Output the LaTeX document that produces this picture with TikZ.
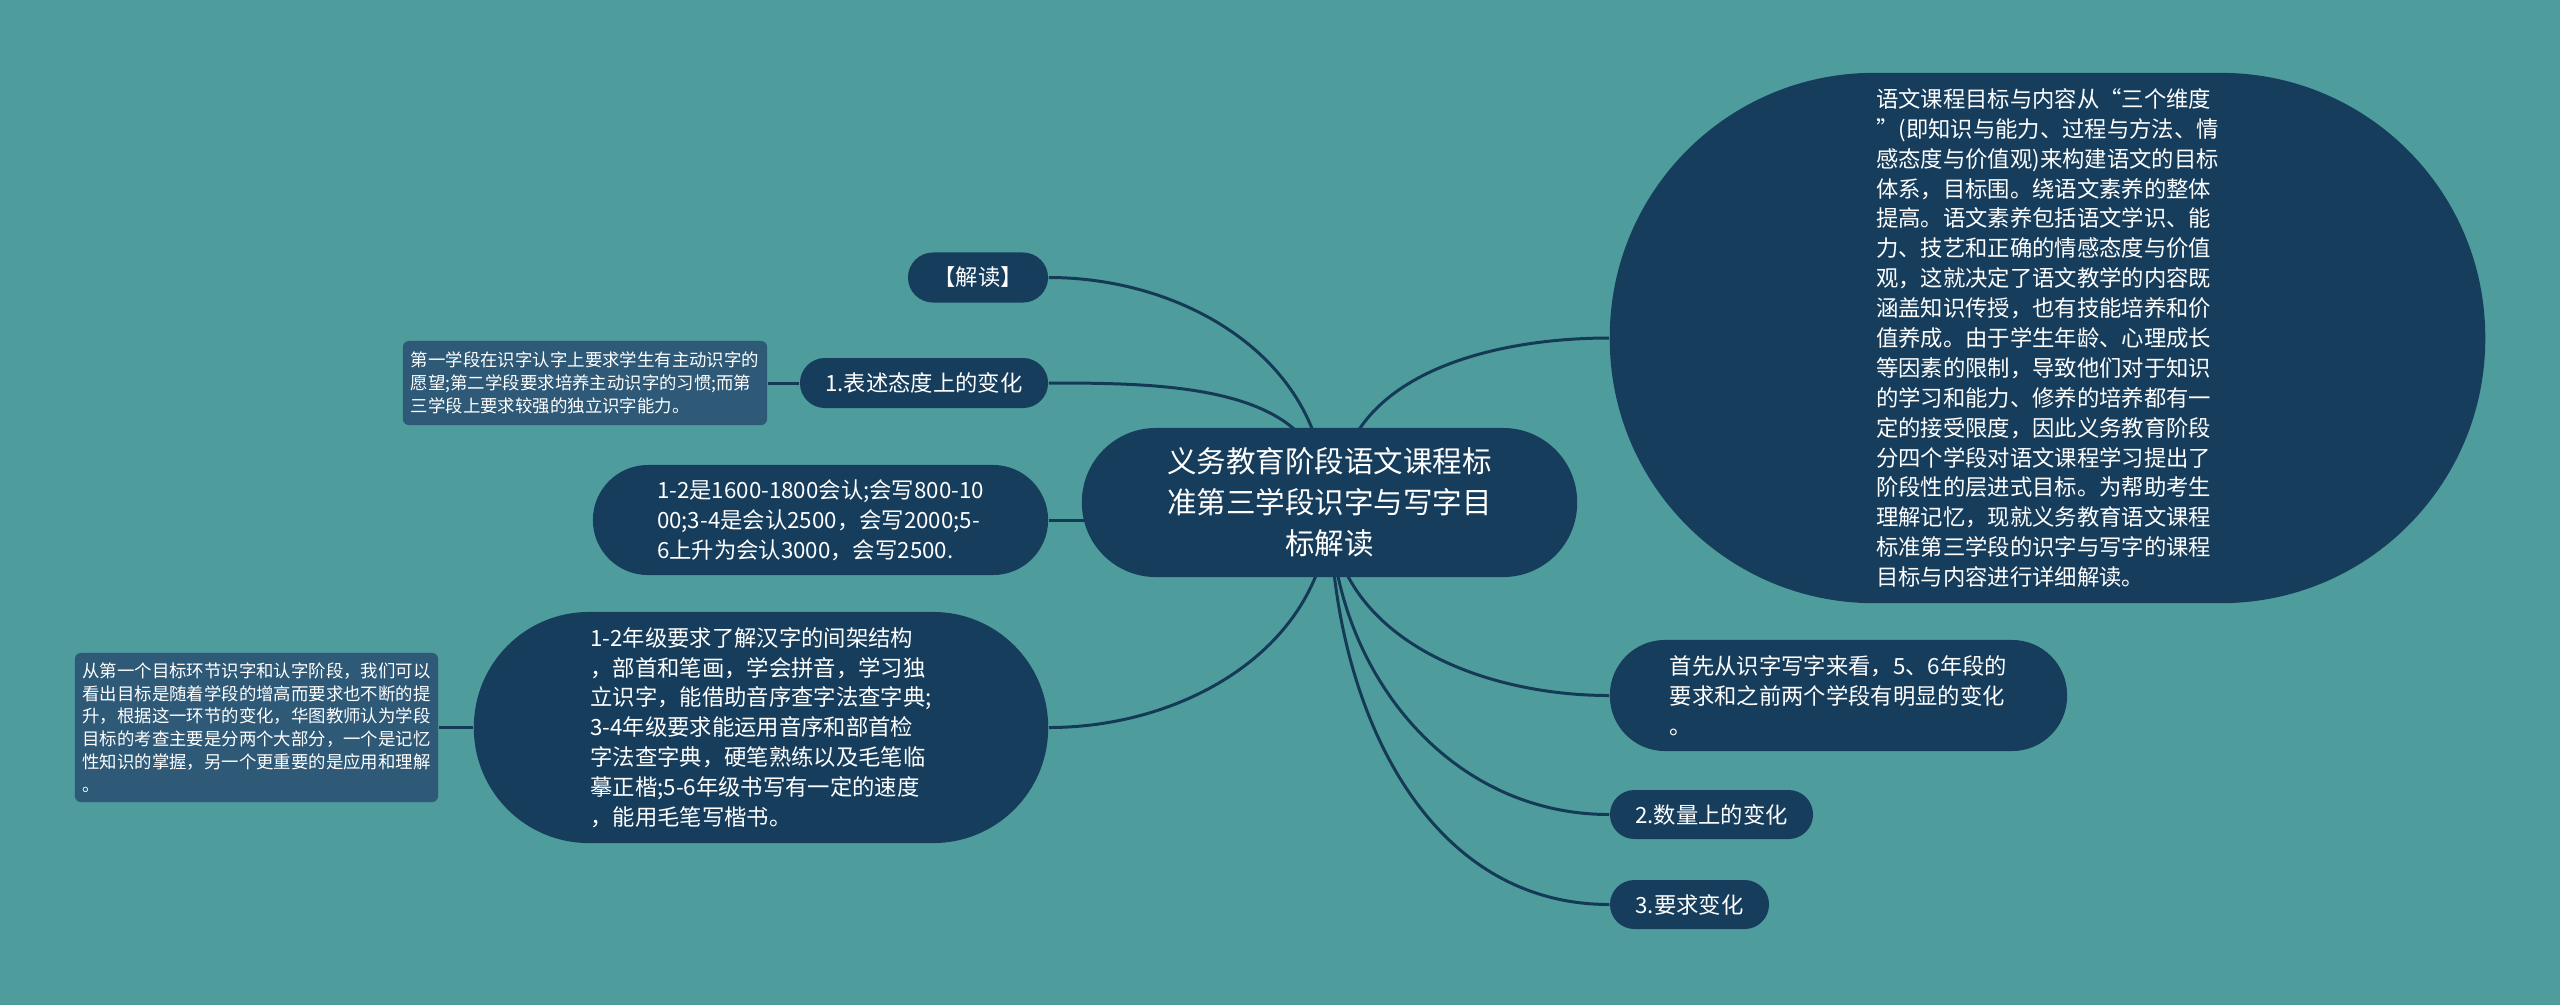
\documentclass[tikz,border=0pt]{standalone}
\usepackage{fontspec}
\setmainfont{Noto Sans CJK SC}
\usetikzlibrary{backgrounds}

\definecolor{bgteal}{HTML}{4E9C9C}
\definecolor{nodeblue}{HTML}{173D5C}
\definecolor{noteblue}{HTML}{2E5977}
\definecolor{linkblue}{HTML}{143A56}

\tikzset{
  topic/.style={fill=nodeblue, text=white, align=left, inner sep=0pt,
    font=\fontsize{6.35pt}{8.5pt}\selectfont},
  note/.style={fill=noteblue, text=white, align=left, inner sep=0pt,
    rounded corners=0.06cm, font=\fontsize{4.95pt}{6.5pt}\selectfont},
  link/.style={draw=linkblue, line width=0.85pt},
}

\begin{document}
\begin{tikzpicture}[x=0.01cm, y=-0.01cm]
   		\useasboundingbox (0,0) rectangle (2560,1005);

   		% Central topic
   		\node[topic, align=center, minimum width=4.95cm, minimum height=1.49cm, rounded corners=0.74cm,
   		  font=\fontsize{8.4pt}{11.7pt}\selectfont] (root) at (1329.5,502.5)
   		  {义务教育阶段语文课程标\\准第三学段识字与写字目\\标解读};

   		% Left branches
   		\node[topic, minimum width=1.4cm, minimum height=0.5cm, rounded corners=0.25cm] (jd) at (978,277.5) {【解读】};
   		\node[topic, minimum width=2.48cm, minimum height=0.5cm, rounded corners=0.25cm] (bs) at (924,383) {1.表述态度上的变化};
   		\node[note, minimum width=3.64cm, minimum height=0.84cm] (n1) at (585,383)
   		  {第一学段在识字认字上要求学生有主动识字的\\愿望;第二学段要求培养主动识字的习惯;而第\\三学段上要求较强的独立识字能力。};
   		\node[topic, minimum width=4.55cm, minimum height=1.10cm, rounded corners=0.55cm] (sl) at (820.5,520)
   		  {1-2是1600-1800会认;会写800-10\\00;3-4是会认2500，会写2000;5-\\6上升为会认3000，会写2500.};
   		\node[topic, minimum width=5.74cm, minimum height=2.31cm, rounded corners=1.15cm] (yq) at (761,727.5)
   		  {1-2年级要求了解汉字的间架结构\\，部首和笔画，学会拼音，学习独\\立识字，能借助音序查字法查字典;\\3-4年级要求能运用音序和部首检\\字法查字典，硬笔熟练以及毛笔临\\摹正楷;5-6年级书写有一定的速度\\，能用毛笔写楷书。};
   		\node[note, minimum width=3.63cm, minimum height=1.49cm] (n2) at (256.5,727.5)
   		  {从第一个目标环节识字和认字阶段，我们可以\\看出目标是随着学段的增高而要求也不断的提\\升，根据这一环节的变化，华图教师认为学段\\目标的考查主要是分两个大部分，一个是记忆\\性知识的掌握，另一个更重要的是应用和理解\\。};

   		% Right branches
   		\node[topic, minimum width=8.75cm, minimum height=5.3cm, rounded corners=2.64cm] (mb) at (2047.5,338)
   		  {语文课程目标与内容从“三个维度\\”(即知识与能力、过程与方法、情\\感态度与价值观)来构建语文的目标\\体系，目标围。绕语文素养的整体\\提高。语文素养包括语文学识、能\\力、技艺和正确的情感态度与价值\\观，这就决定了语文教学的内容既\\涵盖知识传授，也有技能培养和价\\值养成。由于学生年龄、心理成长\\等因素的限制，导致他们对于知识\\的学习和能力、修养的培养都有一\\定的接受限度，因此义务教育阶段\\分四个学段对语文课程学习提出了\\阶段性的层进式目标。为帮助考生\\理解记忆，现就义务教育语文课程\\标准第三学段的识字与写字的课程\\目标与内容进行详细解读。};
   		\node[topic, minimum width=4.57cm, minimum height=1.11cm, rounded corners=0.55cm] (sx) at (1838.5,695.5)
   		  {首先从识字写字来看，5、6年段的\\要求和之前两个学段有明显的变化\\。};
   		\node[topic, minimum width=2.03cm, minimum height=0.49cm, rounded corners=0.245cm] (sl2) at (1711.5,814.5) {2.数量上的变化};
   		\node[topic, minimum width=1.59cm, minimum height=0.49cm, rounded corners=0.245cm] (yq3) at (1689.5,904.5) {3.要求变化};

   		% Background and links
   		\begin{pgfonlayer}{background}
   		  \fill[bgteal] (0,0) rectangle (2560,1005);
   		  \coordinate (rtl) at (1326,502);
   		  \coordinate (rtr) at (1338,502);
   		  \coordinate (rb) at (1330,502);
   		  \draw[link] (rtl) to[out=90,in=0] (jd.east);
   		  \draw[link] (rtl) to[out=90,in=0] (bs.east);
   		  \draw[link] (rtr) to[out=90,in=180] (mb.west);
   		  \draw[link] (sl.east) -- (sl.east -| root.center);
   		  \draw[link] (rb) to[out=-90,in=0] (yq.east);
   		  \draw[link] (rb) to[out=-90,in=180] (sx.west);
   		  \draw[link] (rb) to[out=-90,in=180] (sl2.west);
   		  \draw[link] (rb) to[out=-90,in=180] (yq3.west);
   		  \draw[link] (n1.east) -- (bs.west);
   		  \draw[link] (n2.east) -- (yq.west);
   		\end{pgfonlayer}
   		
   	\end{tikzpicture}
\end{document}
